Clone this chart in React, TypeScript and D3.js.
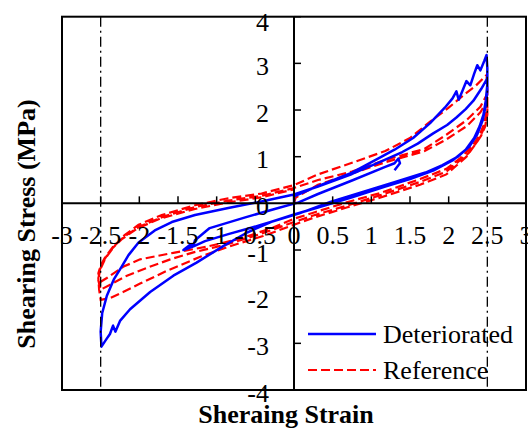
import React from 'react'
import * as d3 from 'd3'

// strain (x) vs shearing stress (y), branch by branch
const xTicks = [-3, -2.5, -2, -1.5, -1, -0.5, 0, 0.5, 1, 1.5, 2, 2.5, 3]
const xTickLabels = ['-3', '-2.5', '-2', '-1.5', '-1', '-0.5', '0', '0.5', '1', '1.5', '2', '2.5', '3']
const yTicks = [-4, -3, -2, -1, 0, 1, 2, 3, 4]
const yTickLabels = ['-4', '-3', '-2', '-1', '0', '1', '2', '3', '4']
const limitStrains = [-2.5, 2.5]
const seriesNames = ['Deteriorated', 'Reference']

// Deteriorated specimen
const detVirgin = [[0, 0], [0, 0.15], [0.31, 0.37], [0.75, 0.66], [1.11, 0.98], [1.3, 1.15], [1.54, 1.4], [1.76, 1.72], [1.95, 2.05], [2.05, 2.25], [2.1, 2.4], [2.13, 2.22], [2.18, 2.42], [2.23, 2.62], [2.28, 2.53], [2.33, 2.78], [2.37, 2.96], [2.41, 2.85], [2.46, 3.05], [2.49, 3.18]]
const detUnload1 = [[2.5, 2.9], [2.5, 2.55], [2.48, 2.2], [2.45, 1.9], [2.4, 1.65], [2.33, 1.4], [2.22, 1.15], [2.05, 0.92], [1.8, 0.7], [1.5, 0.52], [1.18, 0.36], [0.75, 0.13], [0.31, -0.09], [0, -0.24], [-0.3, -0.4], [-0.6, -0.62], [-0.91, -0.91], [-1.26, -1.27], [-1.56, -1.55], [-1.86, -1.9], [-2.12, -2.27], [-2.25, -2.52], [-2.31, -2.75], [-2.34, -2.62], [-2.38, -2.8], [-2.43, -2.92], [-2.49, -3.07]]
const detReload1 = [[-2.5, -2.75], [-2.48, -2.35], [-2.42, -1.98], [-2.33, -1.63], [-2.23, -1.36], [-2.14, -1.11], [-2.01, -0.84], [-1.8, -0.58], [-1.58, -0.4], [-1.28, -0.25], [-0.85, -0.1], [-0.42, 0.04], [0, 0.19], [0.31, 0.36], [0.75, 0.63], [1.1, 0.88], [1.4, 1.1], [1.6, 1.28], [1.8, 1.5], [1.98, 1.68], [2.1, 1.84], [2.22, 2.02], [2.32, 2.2], [2.42, 2.45], [2.5, 2.68]]
const detUnload2 = [[2.5, 2.4], [2.48, 2.1], [2.44, 1.78], [2.37, 1.48], [2.27, 1.22], [2.12, 1.0], [1.92, 0.82], [1.7, 0.66], [1.33, 0.47], [0.9, 0.25], [0.47, 0.03], [0.06, -0.22], [-0.42, -0.46], [-0.85, -0.66], [-1.15, -0.81], [-1.3, -0.92], [-1.43, -1.0]]
const detReload2 = [[-1.33, -0.87], [-1.3, -0.9], [-1.28, -0.79], [-1.09, -0.53], [-0.63, -0.3], [-0.25, -0.12], [0.06, 0.02], [0.31, 0.2], [0.75, 0.49], [1.18, 0.78], [1.3, 0.86], [1.35, 0.96], [1.37, 0.86], [1.3, 0.71]]

// Reference specimen
const refVirgin = [[0, 0], [0.02, 0.12], [0.31, 0.4], [0.75, 0.64], [1.18, 0.88], [1.69, 1.12], [1.97, 1.37], [2.23, 1.65], [2.41, 1.95], [2.5, 2.2]]
const refUnload1 = [[2.5, 1.9], [2.47, 1.64], [2.42, 1.45], [2.36, 1.3], [2.23, 1.0], [1.97, 0.62], [1.63, 0.4], [1.11, 0.12], [0.68, -0.09], [0.25, -0.31], [0, -0.46], [-0.4, -0.7], [-0.83, -0.92], [-1.22, -1.15], [-1.65, -1.45], [-1.99, -1.72], [-2.21, -1.9], [-2.38, -2.03], [-2.5, -2.07]]
const refReload1 = [[-2.52, -1.85], [-2.53, -1.6], [-2.5, -1.4], [-2.44, -1.18], [-2.31, -0.89], [-2.19, -0.68], [-2.01, -0.46], [-1.71, -0.25], [-1.28, -0.04], [-0.85, 0.11], [-0.42, 0.21], [0, 0.39], [0.31, 0.62], [0.75, 0.87], [1.18, 1.12], [1.5, 1.4], [1.76, 1.75], [2.0, 2.05], [2.2, 2.33], [2.35, 2.52], [2.49, 2.75]]
const refUnload2 = [[2.5, 2.4], [2.49, 2.0], [2.46, 1.7], [2.4, 1.47], [2.3, 1.22], [2.15, 0.97], [1.97, 0.74], [1.63, 0.52], [1.11, 0.22], [0.68, 0.02], [0.25, -0.2], [0, -0.33], [-0.27, -0.52], [-0.7, -0.76], [-1.13, -0.93], [-1.56, -1.06], [-1.99, -1.2], [-2.21, -1.36], [-2.42, -1.6], [-2.5, -1.68]]
const refReload2 = [[-2.53, -1.5], [-2.5, -1.33], [-2.45, -1.18], [-2.35, -0.95], [-2.2, -0.72], [-2.0, -0.5], [-1.7, -0.29], [-1.28, -0.08], [-0.85, 0.06], [-0.42, 0.16], [0, 0.33], [0.31, 0.5], [0.75, 0.68], [1.18, 0.93], [1.69, 1.17], [1.97, 1.47], [2.23, 1.78], [2.41, 2.07], [2.5, 2.35]]
const refUnload3 = [[2.5, 2.05], [2.48, 1.75], [2.44, 1.55], [2.38, 1.35], [2.26, 1.08], [1.97, 0.68], [1.63, 0.46], [1.11, 0.17], [0.68, -0.05], [0.25, -0.26], [0, -0.4], [-0.44, -0.66], [-0.87, -0.88], [-1.3, -1.05], [-1.6, -1.2], [-1.9, -1.38], [-2.16, -1.55], [-2.34, -1.71], [-2.5, -1.85]]
const refReload3 = [[-2.53, -1.65], [-2.51, -1.42], [-2.46, -1.22], [-2.36, -0.98], [-2.22, -0.76], [-2.02, -0.53], [-1.72, -0.32], [-1.28, -0.12], [-0.85, 0.02], [-0.42, 0.13], [0, 0.3]]

const deteriorated = [...detVirgin, ...detUnload1, ...detReload1, ...detUnload2, ...detReload2]
const reference = [...refVirgin, ...refUnload1, ...refReload1, ...refUnload2, ...refReload2, ...refUnload3, ...refReload3]

const W = 528, H = 428
const margin = { left: 62, right: 2, top: 16.7, bottom: 38 }
const serif = { fontFamily: '"Liberation Serif", "Times New Roman", "DejaVu Serif", serif' }

export default function App() {
  const x = d3.scaleLinear().domain([-3, 3]).range([margin.left, W - margin.right])
  const y = d3.scaleLinear().domain([-4, 4]).range([H - margin.bottom, margin.top])
  const line = d3.line<number[]>().x(d => x(d[0])).y(d => y(d[1]))
  const x0 = x(0), y0 = y(0)

  return (
    <div style={{ position: 'absolute', left: 0, top: 0 }}>
      <svg width={W} height={H} style={{ display: 'block', background: '#fff', ...serif }} fontSize={26}>
        <path d={line(reference) || ''} fill="none" stroke="#ff0000" strokeWidth={2.2} strokeDasharray="9,4" />
        <path d={line(deteriorated) || ''} fill="none" stroke="#0000ff" strokeWidth={2.5} strokeLinejoin="round" />

        {/* frame and zero axes */}
        <rect x={x(-3)} y={y(4)} width={x(3) - x(-3)} height={y(-4) - y(4)} fill="none" stroke="#000" strokeWidth={2} />
        <line x1={x(-3)} x2={x(3)} y1={y0} y2={y0} stroke="#000" strokeWidth={2} />
        <line x1={x0} x2={x0} y1={y(4)} y2={y(-4)} stroke="#000" strokeWidth={2} />

        {xTicks.map((t, i) => (
          <g key={'x' + t}>
            <line x1={x(t)} x2={x(t)} y1={y0} y2={y0 - 7} stroke="#000" strokeWidth={1.5} />
            <text x={x(t)} y={y0 + 41} textAnchor="middle" style={serif}>{xTickLabels[i]}</text>
          </g>
        ))}
        {yTicks.map((t, i) => (
          <g key={'y' + t}>
            <line x1={x0} x2={x0 + 7} y1={y(t)} y2={y(t)} stroke="#000" strokeWidth={1.5} />
            <text x={x0 - 25} y={y(t) + (t === 4 ? 14 : 11.5)} textAnchor="end" style={serif}>{yTickLabels[i]}</text>
          </g>
        ))}

        {/* legend */}
        <line x1={308} x2={376} y1={334} y2={334} stroke="#0000ff" strokeWidth={2.5} />
        <text x={383} y={343} style={serif}>{seriesNames[0]}</text>
        <line x1={308} x2={376} y1={370} y2={370} stroke="#ff0000" strokeWidth={2.2} strokeDasharray="9,4" />
        <text x={383} y={379} style={serif}>{seriesNames[1]}</text>

        {limitStrains.map(s => (
          <line key={s} x1={x(s)} x2={x(s)} y1={y(4)} y2={y(-4)} stroke="#000" strokeWidth={1.3} strokeDasharray="10,4,2,4" />
        ))}

        <text x={286} y={423} textAnchor="middle" fontWeight="bold" style={serif}>Sheraing Strain</text>
        <text transform="translate(35,224) rotate(-90)" textAnchor="middle" fontWeight="bold" style={serif}>Shearing Stress (MPa)</text>
      </svg>
    </div>
  )
}
